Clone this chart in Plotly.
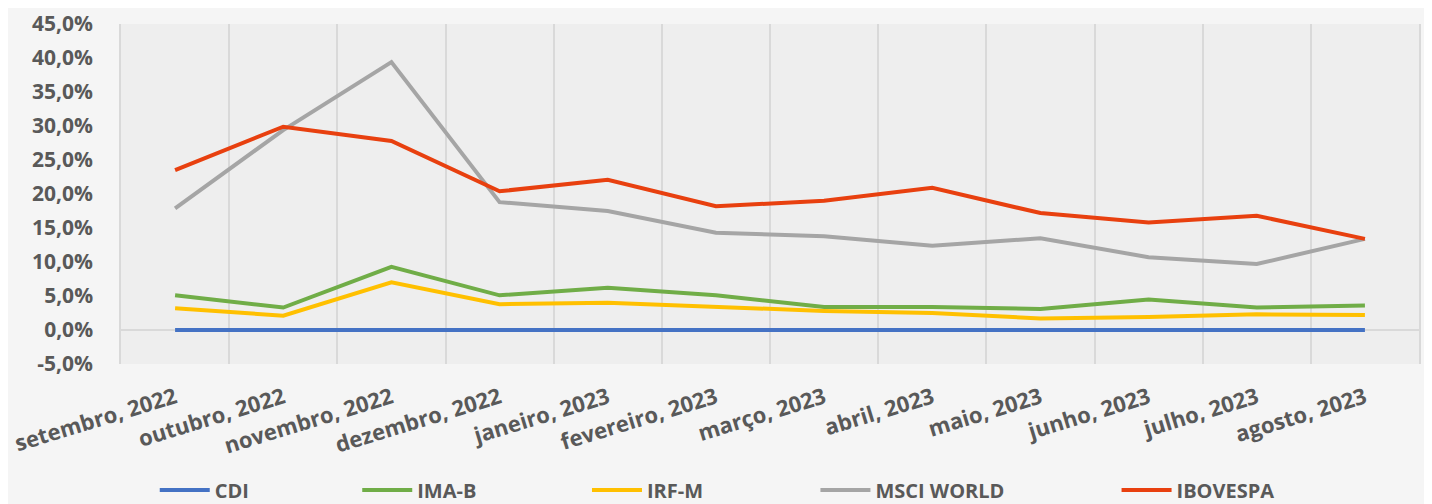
import plotly.graph_objects as go

months = ["setembro, 2022", "outubro, 2022", "novembro, 2022", "dezembro, 2022",
          "janeiro, 2023", "fevereiro, 2023", "março, 2023", "abril, 2023",
          "maio, 2023", "junho, 2023", "julho, 2023", "agosto, 2023"]

cdi = [0.0] * 12
ima_b = [5.1, 3.3, 9.3, 5.1, 6.2, 5.1, 3.4, 3.4, 3.1, 4.5, 3.3, 3.6]
irf_m = [3.2, 2.1, 7.0, 3.8, 4.0, 3.4, 2.8, 2.5, 1.7, 1.9, 2.3, 2.2]
msci_world = [17.9, 29.4, 39.4, 18.8, 17.5, 14.3, 13.8, 12.4, 13.5, 10.7, 9.7, 13.4]
ibovespa = [23.5, 29.9, 27.8, 20.4, 22.1, 18.2, 19.0, 20.9, 17.2, 15.8, 16.8, 13.4]

y_tick_values = [-5, 0, 5, 10, 15, 20, 25, 30, 35, 40, 45]
y_tick_labels = ["-5,0%", "0,0%", "5,0%", "10,0%", "15,0%", "20,0%",
                 "25,0%", "30,0%", "35,0%", "40,0%", "45,0%"]

series = [
    ("CDI", cdi, "#4472C4", "legend"),
    ("IMA-B", ima_b, "#70AD47", "legend2"),
    ("IRF-M", irf_m, "#FFC000", "legend3"),
    ("MSCI WORLD", msci_world, "#A5A5A5", "legend4"),
    ("IBOVESPA", ibovespa, "#E8400F", "legend5"),
]

fig = go.Figure()
for name, vals, color, lg in series:
    fig.add_trace(go.Scatter(
        x=months, y=vals, name=name, mode="lines",
        line=dict(color=color, width=4),
        legend=lg, showlegend=True,
    ))

font_color = "#595959"
legend_font = dict(family="Open Sans", size=20, color=font_color, weight="bold")
leg_common = dict(orientation="h", yref="container", yanchor="middle", y=0.028,
                  xanchor="left", font=legend_font, bgcolor="rgba(0,0,0,0)",
                  itemwidth=50, borderwidth=0, visible=True)

fig.update_layout(
    width=1424, height=496,
    margin=dict(l=113, r=13, t=16, b=140, pad=0),
    paper_bgcolor="#f5f5f5",
    plot_bgcolor="#eeeeee",
    separators=",.",
    showlegend=True,
    font=dict(family="Open Sans", color=font_color, size=20),
    legend=dict(x=0.026, **leg_common),
    legend2=dict(x=0.182, **leg_common),
    legend3=dict(x=0.359, **leg_common),
    legend4=dict(x=0.535, **leg_common),
    legend5=dict(x=0.767, **leg_common),
    xaxis=dict(
        type="category",
        range=[-0.5, 11.5],
        tickson="boundaries",
        showgrid=True, gridcolor="#d9d9d9", gridwidth=1.5,
        tickangle=-17,
        tickfont=dict(family="Open Sans", size=22, color=font_color, weight="bold"),
        ticks="", showline=False, zeroline=False,
        ticklabelstandoff=16,
        automargin=False,
    ),
    yaxis=dict(
        range=[-5, 45],
        tickmode="array", tickvals=y_tick_values, ticktext=y_tick_labels,
        showgrid=False,
        zeroline=True, zerolinecolor="#d9d9d9", zerolinewidth=1.5,
        tickfont=dict(family="Open Sans", size=21, color=font_color, weight="bold"),
        ticklabelstandoff=22,
        showline=True, mirror=True, linecolor="#d9d9d9", linewidth=1.5,
        automargin=False,
    ),
)

fig.write_html("out.html")
